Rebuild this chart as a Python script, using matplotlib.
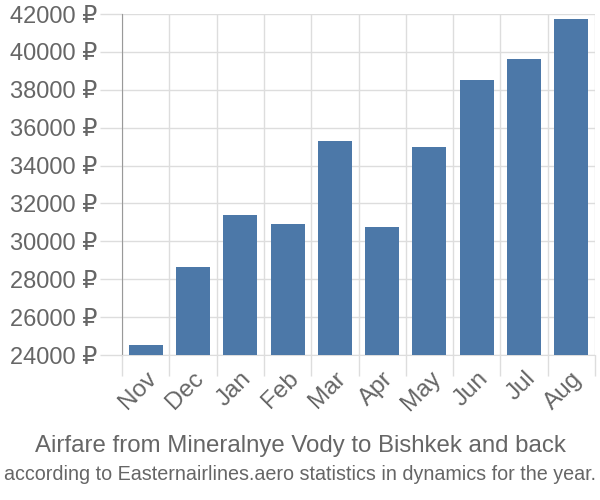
import matplotlib
matplotlib.use("Agg")
import matplotlib.pyplot as plt
import numpy as np

# Data
months = ["Nov", "Dec", "Jan", "Feb", "Mar", "Apr", "May", "Jun", "Jul", "Aug"]
prices = [24530, 28650, 31390, 30920, 35300, 30760, 34980, 38520, 39600, 41740]
yticks = list(range(24000, 42001, 2000))

plt.rcParams['font.family'] = ['Liberation Sans', 'DejaVu Sans']
text_color = "#666666"

fig = plt.figure(figsize=(6, 5), dpi=100)
ax = fig.add_axes([122 / 600, 1 - 355 / 500, 473 / 600, 341 / 500])

x = np.arange(len(months))
ax.bar(x, prices, width=0.72, color="#4c78a8", zorder=3)

ax.set_xlim(-0.5, len(months) - 0.5)
ax.set_ylim(24000, 42000)

# category boundaries: grid + ticks; labels at centres
ax.set_xticks(np.arange(-0.5, len(months), 1.0))
ax.set_xticklabels([])
ax.set_xticks(x, minor=True)
ax.set_xticklabels(months, minor=True, rotation=45, ha="right", va="top",
                   rotation_mode="anchor", fontsize=17.5, color=text_color)
ax.tick_params(axis="x", which="major", length=15, color="#dddddd", width=1)
ax.tick_params(axis="x", which="minor", length=0, pad=9)

ax.set_yticks(yticks)
ax.set_yticklabels([f"{v} ₽" for v in yticks], fontsize=17, color=text_color)
ax.tick_params(axis="y", length=16, color="#dddddd", width=1, pad=2)

ax.grid(True, color="#dddddd", linewidth=1, zorder=0)
for s in ["top", "right"]:
    ax.spines[s].set_visible(False)
ax.spines["left"].set_color("#999999")
ax.spines["bottom"].set_color("#dddddd")

fig.text(0.5, 1 - 446 / 500, "Airfare from Mineralnye Vody to Bishkek and back",
         ha="center", va="center", fontsize=17.3, color=text_color)
fig.text(0.5, 1 - 475 / 500,
         "according to Easternairlines.aero statistics in dynamics for the year.",
         ha="center", va="center", fontsize=14.2, color=text_color)

fig.savefig("out.png", dpi=100)
